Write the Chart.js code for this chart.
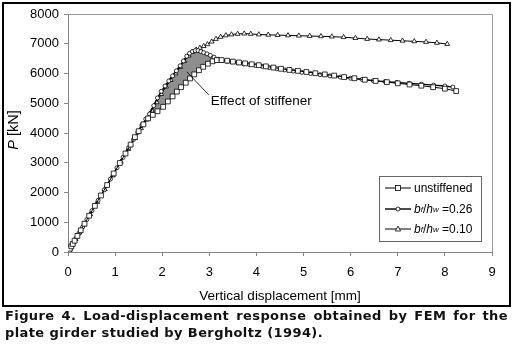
<!DOCTYPE html>
<html>
<head>
<meta charset="utf-8">
<script src="https://cdn.jsdelivr.net/npm/chart.js@4.4.1/dist/chart.umd.min.js"></script>
<style>
  body { margin: 0; background: #fff; width: 514px; height: 347px; overflow: hidden; position: relative; }
  #wrap { position: absolute; left: 0; top: 0; width: 514px; height: 308px; }
  #frame { position: absolute; left: 2px; top: 2px; width: 509px; height: 305px; box-sizing: border-box; border: 2px solid #000; pointer-events: none; }
  #ytitle { position: absolute; left: 13px; top: 130px; transform: translate(-50%, -50%) rotate(-90deg); font: 14.5px "Liberation Sans", Arial, sans-serif; color: #000; white-space: nowrap; }
  #legend { position: absolute; left: 379px; top: 176px; width: 103px; height: 66px; box-sizing: border-box; border: 1px solid #666; background: #fff; font: 12px "Liberation Sans", Arial, sans-serif; color: #000; }
  #legend .row { position: absolute; left: 0; height: 16px; display: flex; align-items: center; }
  #legend svg { margin-left: 5px; margin-right: 3px; }
  #legend sub { font-size: 8px; vertical-align: -2px; }
  #caption { position: absolute; left: 5px; top: 308px; width: 503px; font: bold 13px "DejaVu Sans", sans-serif; letter-spacing: 0.4px; line-height: 16.5px; color: #111; }
  #caption .l1 { text-align: justify; text-align-last: justify; white-space: nowrap; }
</style>
</head>
<body>
<div id="wrap"><canvas id="chart" width="514" height="308"></canvas></div>
<div id="frame"></div>
<div id="ytitle"><i>P</i> [kN]</div>
<div id="legend">
  <div class="row" style="top:3px">
    <svg width="26" height="8"><line x1="0" y1="4" x2="26" y2="4" stroke="#000" stroke-width="1"/><rect x="10.5" y="1.5" width="5" height="5" fill="#fff" stroke="#000" stroke-width="0.8"/></svg>unstiffened
  </div>
  <div class="row" style="top:24px">
    <svg width="26" height="8"><line x1="0" y1="4" x2="26" y2="4" stroke="#000" stroke-width="1.4"/><circle cx="13" cy="4" r="2" fill="#fff" stroke="#000" stroke-width="0.8"/></svg><i>b</i><sub><i>f</i></sub>/<i>h</i><sub><i>w</i></sub>&nbsp;=0.26
  </div>
  <div class="row" style="top:44px">
    <svg width="26" height="8"><line x1="0" y1="4" x2="26" y2="4" stroke="#000" stroke-width="1"/><polygon points="13,1 15.6,6 10.4,6" fill="#fff" stroke="#000" stroke-width="0.8"/></svg><i>b</i><sub><i>f</i></sub>/<i>h</i><sub><i>w</i></sub>&nbsp;=0.10
  </div>
</div>
<div id="caption">
  <div class="l1">Figure 4. Load-displacement response obtained by FEM for the</div>
  <div>plate girder studied by Bergholtz (1994).</div>
</div>

<script>
// Unstiffened girder (squares)
const unstiffX = [0, 0.02, 0.04, 0.07, 0.1, 0.14, 0.2, 0.27, 0.35, 0.45, 0.57, 0.7, 0.83, 0.97, 1.1, 1.22, 1.33, 1.42, 1.5, 1.6,
  1.7, 1.8, 1.9, 2.02, 2.12, 2.22, 2.31, 2.4, 2.5, 2.59, 2.68, 2.78, 2.87, 2.97, 3.07, 3.16, 3.26, 3.38, 3.5, 3.63,
  3.76, 3.9, 4.05, 4.2, 4.36, 4.52, 4.7, 4.88, 5.06, 5.25, 5.45, 5.65, 5.86, 6.08, 6.3, 6.53, 6.77, 7.0, 7.25, 7.5,
  7.75, 8.0, 8.24];
const unstiffY = [0, 50, 110, 190, 270, 380, 540, 730, 950, 1220, 1550, 1900, 2250, 2640, 2990, 3310, 3610, 3860, 4060, 4290,
  4490, 4610, 4730, 4880, 5060, 5230, 5390, 5540, 5690, 5835, 5970, 6110, 6225, 6330, 6410, 6450, 6450, 6430, 6400, 6370,
  6340, 6310, 6280, 6240, 6200, 6160, 6120, 6090, 6050, 6010, 5970, 5930, 5880, 5840, 5790, 5750, 5710, 5670, 5630, 5590,
  5540, 5490, 5410];

// bf/hw = 0.26 (circles)
const stiff26X = [0, 0.01, 0.03, 0.05, 0.08, 0.12, 0.17, 0.23, 0.31, 0.4, 0.51, 0.64, 0.77, 0.9, 1.04, 1.17, 1.29, 1.39, 1.48, 1.57,
  1.65, 1.73, 1.82, 1.9, 1.98, 2.06, 2.14, 2.22, 2.3, 2.38, 2.45, 2.52, 2.58, 2.64, 2.7, 2.76, 2.82, 2.88, 2.95, 3.02,
  3.1, 3.19, 3.28, 3.38, 3.48, 3.6, 3.72, 3.85, 3.98, 4.12, 4.27, 4.43, 4.6, 4.78, 4.96, 5.15, 5.35, 5.56, 5.78, 6.0,
  6.24, 6.48, 6.73, 6.98, 7.24, 7.5, 7.76, 8.0, 8.17];
const stiff26Y = [0, 25, 80, 135, 215, 325, 460, 625, 840, 1090, 1390, 1740, 2090, 2450, 2830, 3180, 3510, 3780, 4020, 4260,
  4470, 4640, 4920, 5180, 5400, 5580, 5750, 5920, 6090, 6260, 6420, 6580, 6680, 6740, 6770, 6770, 6740, 6700, 6660, 6610,
  6550, 6480, 6440, 6410, 6390, 6360, 6330, 6300, 6270, 6240, 6200, 6160, 6120, 6080, 6040, 6000, 5960, 5920, 5880, 5840,
  5800, 5760, 5730, 5700, 5670, 5640, 5610, 5580, 5545];

// bf/hw = 0.10 (triangles)
const stiff10X = [0, 0.03, 0.06, 0.1, 0.16, 0.24, 0.34, 0.47, 0.62, 0.78, 0.95, 1.12, 1.28, 1.42, 1.55, 1.67, 1.78, 1.88, 1.98, 2.08,
  2.18, 2.28, 2.38, 2.47, 2.56, 2.64, 2.72, 2.8, 2.88, 2.96, 3.05, 3.14, 3.24, 3.35, 3.47, 3.6, 3.74, 3.88, 4.05, 4.25,
  4.45, 4.67, 4.9, 5.13, 5.37, 5.6, 5.85, 6.1, 6.35, 6.6, 6.85, 7.1, 7.35, 7.6, 7.83, 8.05];
const stiff10Y = [0, 80, 160, 270, 430, 650, 920, 1270, 1680, 2110, 2570, 3030, 3460, 3830, 4160, 4450, 4750, 5030, 5310, 5560,
  5780, 6000, 6220, 6420, 6600, 6720, 6800, 6860, 6920, 6980, 7070, 7160, 7230, 7280, 7310, 7330, 7340, 7330, 7310, 7300,
  7290, 7280, 7270, 7260, 7250, 7240, 7220, 7190, 7160, 7140, 7120, 7100, 7080, 7060, 7030, 6990];

const xTicks = [0, 1, 2, 3, 4, 5, 6, 7, 8, 9];
const yTicks = [0, 1000, 2000, 3000, 4000, 5000, 6000, 7000, 8000];

// shaded "effect of stiffener" band between the two curves
const shadeFrom = 1.65;
const shadeTo = 3.2;
const noteText = "Effect of stiffener";
const noteFrom = { x: 2.52, y: 6060 };
const noteTo = { x: 2.99, y: 5275 };

const pts = (xs, ys) => xs.map((x, i) => ({ x: x, y: ys[i] }));
const inShade = p => p.x >= shadeFrom && p.x <= shadeTo;

const FONT = '"Liberation Sans", Arial, sans-serif';

// plot frame + annotation
const extras = {
  id: 'extras',
  beforeDatasetsDraw(chart) {
    const { ctx, chartArea: a } = chart;
    ctx.save();
    ctx.strokeStyle = '#9a9a9a';
    ctx.lineWidth = 1;
    ctx.beginPath();
    ctx.moveTo(a.left, a.top + 0.5);
    ctx.lineTo(a.right + 0.5, a.top + 0.5);
    ctx.lineTo(a.right + 0.5, a.bottom);
    ctx.stroke();
    ctx.restore();
  },
  afterDatasetsDraw(chart) {
    const { ctx } = chart;
    const xs = chart.scales.x, ys = chart.scales.y;
    const x1 = xs.getPixelForValue(noteFrom.x), y1 = ys.getPixelForValue(noteFrom.y);
    const x2 = xs.getPixelForValue(noteTo.x), y2 = ys.getPixelForValue(noteTo.y);
    ctx.save();
    ctx.strokeStyle = '#000';
    ctx.lineWidth = 0.8;
    ctx.beginPath();
    ctx.moveTo(x1, y1);
    ctx.lineTo(x2, y2);
    ctx.stroke();
    ctx.fillStyle = '#000';
    ctx.font = '13.5px ' + FONT;
    ctx.textBaseline = 'middle';
    ctx.fillText(noteText, x2 + 2, y2 + 6);
    ctx.restore();
  }
};

const series = (data, style, radius, lw) => ({
  data: data,
  borderColor: '#000',
  borderWidth: lw,
  pointStyle: style,
  pointRadius: radius,
  pointBackgroundColor: '#fff',
  pointBorderColor: '#000',
  pointBorderWidth: 0.8,
  tension: 0,
  fill: false
});

new Chart(document.getElementById('chart'), {
  type: 'line',
  data: {
    datasets: [
      series(pts(unstiffX, unstiffY), 'rect', 3.4, 1),
      series(pts(stiff26X, stiff26Y), 'circle', 2, 1.3),
      series(pts(stiff10X, stiff10Y), 'triangle', 2.8, 1),
      {
        data: pts(stiff26X, stiff26Y).filter(inShade),
        borderWidth: 0, pointRadius: 0,
        backgroundColor: '#8e8e8e',
        fill: '+1'
      },
      {
        data: pts(unstiffX, unstiffY).filter(inShade),
        borderWidth: 0, pointRadius: 0,
        fill: false
      }
    ]
  },
  options: {
    responsive: false,
    animation: false,
    layout: { padding: { left: 0, right: 22, top: 14, bottom: 0 } },
    plugins: { legend: { display: false }, tooltip: { enabled: false } },
    scales: {
      x: {
        type: 'linear',
        min: 0, max: 9,
        afterFit: s => { s.height = 56; },
        afterBuildTicks: s => { s.ticks = xTicks.map(v => ({ value: v })); },
        border: { color: '#858585', width: 1 },
        grid: { drawOnChartArea: false, tickLength: 4, color: '#858585' },
        ticks: { color: '#000', padding: 9, font: { family: FONT, size: 13 }, callback: v => String(v) },
        title: { display: true, text: 'Vertical displacement [mm]', color: '#000', font: { family: FONT, size: 13.5 }, padding: { top: 0, bottom: 4 } }
      },
      y: {
        min: 0, max: 8000,
        afterFit: s => { s.width = 68; },
        afterBuildTicks: s => { s.ticks = yTicks.map(v => ({ value: v })); },
        border: { color: '#858585', width: 1 },
        grid: { drawOnChartArea: false, tickLength: 4, color: '#858585' },
        ticks: { color: '#000', padding: 5, font: { family: FONT, size: 13 }, callback: v => String(v) }
      }
    }
  },
  plugins: [extras]
});
</script>
</body>
</html>
